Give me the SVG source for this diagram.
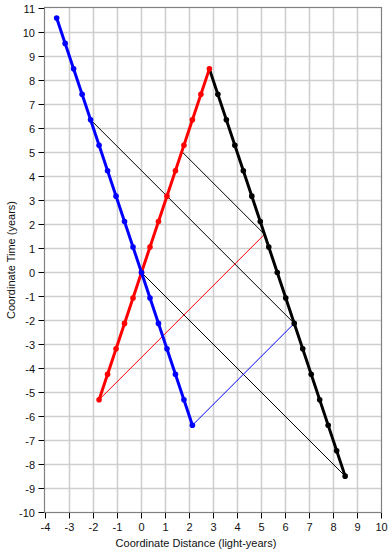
<svg xmlns="http://www.w3.org/2000/svg" xmlns:xlink="http://www.w3.org/1999/xlink" width="392" height="552" viewBox="0 0 392 552">
<style>
text{font-family:"Liberation Sans",Arial,sans-serif;font-size:11px;fill:#111}
.grid line{stroke:#cfcfcf;stroke-width:1.6}
.tick{stroke:#000;stroke-width:1}
.yl{text-anchor:end}
.xl{text-anchor:middle}
.thick{fill:none;stroke-width:3;stroke-linejoin:round;stroke-linecap:round}
.sig{stroke-width:1;fill:none}
</style>
<defs>
<circle id="d" r="2.8"/>
</defs>
<rect width="392" height="552" fill="#fff"/>
<g class="grid" id="grid">
<line x1="69.5" y1="8" x2="69.5" y2="512"/><line x1="93.5" y1="8" x2="93.5" y2="512"/><line x1="117.5" y1="8" x2="117.5" y2="512"/><line x1="141.5" y1="8" x2="141.5" y2="512"/><line x1="165.5" y1="8" x2="165.5" y2="512"/><line x1="189.5" y1="8" x2="189.5" y2="512"/><line x1="213.5" y1="8" x2="213.5" y2="512"/><line x1="237.5" y1="8" x2="237.5" y2="512"/><line x1="261.5" y1="8" x2="261.5" y2="512"/><line x1="285.5" y1="8" x2="285.5" y2="512"/><line x1="309.5" y1="8" x2="309.5" y2="512"/><line x1="333.5" y1="8" x2="333.5" y2="512"/><line x1="357.5" y1="8" x2="357.5" y2="512"/>
<line x1="45" y1="32.5" x2="381" y2="32.5"/><line x1="45" y1="56.5" x2="381" y2="56.5"/><line x1="45" y1="80.5" x2="381" y2="80.5"/><line x1="45" y1="104.5" x2="381" y2="104.5"/><line x1="45" y1="128.5" x2="381" y2="128.5"/><line x1="45" y1="152.5" x2="381" y2="152.5"/><line x1="45" y1="176.5" x2="381" y2="176.5"/><line x1="45" y1="200.5" x2="381" y2="200.5"/><line x1="45" y1="224.5" x2="381" y2="224.5"/><line x1="45" y1="248.5" x2="381" y2="248.5"/><line x1="45" y1="272.5" x2="381" y2="272.5"/><line x1="45" y1="296.5" x2="381" y2="296.5"/><line x1="45" y1="320.5" x2="381" y2="320.5"/><line x1="45" y1="344.5" x2="381" y2="344.5"/><line x1="45" y1="368.5" x2="381" y2="368.5"/><line x1="45" y1="392.5" x2="381" y2="392.5"/><line x1="45" y1="416.5" x2="381" y2="416.5"/><line x1="45" y1="440.5" x2="381" y2="440.5"/><line x1="45" y1="464.5" x2="381" y2="464.5"/><line x1="45" y1="488.5" x2="381" y2="488.5"/>
</g>
<rect id="frame" x="44.5" y="7.5" width="337" height="505" fill="none" stroke="#808080" stroke-width="1.2"/>
<g id="yaxis">
<path class="tick" d="M38.5 8.5H44M38.5 32.5H44M38.5 56.5H44M38.5 80.5H44M38.5 104.5H44M38.5 128.5H44M38.5 152.5H44M38.5 176.5H44M38.5 200.5H44M38.5 224.5H44M38.5 248.5H44M38.5 272.5H44M38.5 296.5H44M38.5 320.5H44M38.5 344.5H44M38.5 368.5H44M38.5 392.5H44M38.5 416.5H44M38.5 440.5H44M38.5 464.5H44M38.5 488.5H44M38.5 512.5H44"/>
<text class="yl" x="35" y="12.5">11</text>
<text class="yl" x="35" y="36.5">10</text>
<text class="yl" x="35" y="60.5">9</text>
<text class="yl" x="35" y="84.5">8</text>
<text class="yl" x="35" y="108.5">7</text>
<text class="yl" x="35" y="132.5">6</text>
<text class="yl" x="35" y="156.5">5</text>
<text class="yl" x="35" y="180.5">4</text>
<text class="yl" x="35" y="204.5">3</text>
<text class="yl" x="35" y="228.5">2</text>
<text class="yl" x="35" y="252.5">1</text>
<text class="yl" x="35" y="276.5">0</text>
<text class="yl" x="35" y="300.5">-1</text>
<text class="yl" x="35" y="324.5">-2</text>
<text class="yl" x="35" y="348.5">-3</text>
<text class="yl" x="35" y="372.5">-4</text>
<text class="yl" x="35" y="396.5">-5</text>
<text class="yl" x="35" y="420.5">-6</text>
<text class="yl" x="35" y="444.5">-7</text>
<text class="yl" x="35" y="468.5">-8</text>
<text class="yl" x="35" y="492.5">-9</text>
<text class="yl" x="35" y="516.5">-10</text>
<text class="xl" transform="translate(15,260) rotate(-90)">Coordinate Time (years)</text>
</g>
<g id="xaxis">
<path class="tick" d="M45.5 513V518.5M69.5 513V518.5M93.5 513V518.5M117.5 513V518.5M141.5 513V518.5M165.5 513V518.5M189.5 513V518.5M213.5 513V518.5M237.5 513V518.5M261.5 513V518.5M285.5 513V518.5M309.5 513V518.5M333.5 513V518.5M357.5 513V518.5M381.5 513V518.5"/>
<text class="xl" x="45.5" y="531">-4</text>
<text class="xl" x="69.5" y="531">-3</text>
<text class="xl" x="93.5" y="531">-2</text>
<text class="xl" x="117.5" y="531">-1</text>
<text class="xl" x="141.5" y="531">0</text>
<text class="xl" x="165.5" y="531">1</text>
<text class="xl" x="189.5" y="531">2</text>
<text class="xl" x="213.5" y="531">3</text>
<text class="xl" x="237.5" y="531">4</text>
<text class="xl" x="261.5" y="531">5</text>
<text class="xl" x="285.5" y="531">6</text>
<text class="xl" x="309.5" y="531">7</text>
<text class="xl" x="333.5" y="531">8</text>
<text class="xl" x="357.5" y="531">9</text>
<text class="xl" x="381.5" y="531">10</text>
<text class="xl" x="196" y="546.5">Coordinate Distance (light-years)</text>
</g>
<g id="connectors">
<line class="sig" stroke="#000" x1="90.59" y1="119.76" x2="294.23" y2="323.41"/>
<line class="sig" stroke="#000" x1="141.5" y1="272.5" x2="345.14" y2="476.15"/>
<line class="sig" stroke="#0000ff" x1="192.41" y1="425.24" x2="294.23" y2="323.41"/>
<line class="sig" stroke="#ff0000" x1="99.07" y1="399.78" x2="264.52" y2="234.32"/>
<line class="sig" stroke="#000" x1="264.52" y1="234.32" x2="181.8" y2="151.6"/>
</g>
<g id="black-worldline" fill="#000">
<polyline class="thick" stroke="#000" points="209.38,68.85 345.14,476.15"/>
<use xlink:href="#d" x="217.87" y="94.31"/><use xlink:href="#d" x="226.35" y="119.76"/><use xlink:href="#d" x="234.84" y="145.22"/><use xlink:href="#d" x="243.32" y="170.68"/><use xlink:href="#d" x="251.81" y="196.13"/><use xlink:href="#d" x="260.29" y="221.59"/><use xlink:href="#d" x="268.78" y="247.04"/><use xlink:href="#d" x="277.26" y="272.5"/><use xlink:href="#d" x="285.75" y="297.96"/><use xlink:href="#d" x="294.23" y="323.41"/><use xlink:href="#d" x="302.72" y="348.87"/><use xlink:href="#d" x="311.2" y="374.32"/><use xlink:href="#d" x="319.69" y="399.78"/><use xlink:href="#d" x="328.17" y="425.24"/><use xlink:href="#d" x="336.66" y="450.69"/><use xlink:href="#d" x="345.14" y="476.15"/>
</g>
<g id="red-worldline" fill="#ff0000">
<polyline class="thick" stroke="#ff0000" points="99.07,399.78 209.38,68.85"/>
<use xlink:href="#d" x="209.38" y="68.85"/><use xlink:href="#d" x="200.9" y="94.31"/><use xlink:href="#d" x="192.41" y="119.76"/><use xlink:href="#d" x="183.93" y="145.22"/><use xlink:href="#d" x="175.44" y="170.68"/><use xlink:href="#d" x="166.96" y="196.13"/><use xlink:href="#d" x="158.47" y="221.59"/><use xlink:href="#d" x="149.99" y="247.04"/><use xlink:href="#d" x="141.5" y="272.5"/><use xlink:href="#d" x="133.01" y="297.96"/><use xlink:href="#d" x="124.53" y="323.41"/><use xlink:href="#d" x="116.04" y="348.87"/><use xlink:href="#d" x="107.56" y="374.32"/><use xlink:href="#d" x="99.07" y="399.78"/>
</g>
<g id="blue-worldline" fill="#0000ff">
<polyline class="thick" stroke="#0000ff" points="56.65,17.94 192.41,425.24"/>
<use xlink:href="#d" x="56.65" y="17.94"/><use xlink:href="#d" x="65.13" y="43.4"/><use xlink:href="#d" x="73.62" y="68.85"/><use xlink:href="#d" x="82.1" y="94.3"/><use xlink:href="#d" x="90.59" y="119.76"/><use xlink:href="#d" x="99.07" y="145.22"/><use xlink:href="#d" x="107.56" y="170.68"/><use xlink:href="#d" x="116.04" y="196.13"/><use xlink:href="#d" x="124.53" y="221.59"/><use xlink:href="#d" x="133.01" y="247.04"/><use xlink:href="#d" x="141.5" y="272.5"/><use xlink:href="#d" x="149.99" y="297.96"/><use xlink:href="#d" x="158.47" y="323.41"/><use xlink:href="#d" x="166.96" y="348.87"/><use xlink:href="#d" x="175.44" y="374.32"/><use xlink:href="#d" x="183.93" y="399.78"/><use xlink:href="#d" x="192.41" y="425.24"/>
</g>
</svg>
